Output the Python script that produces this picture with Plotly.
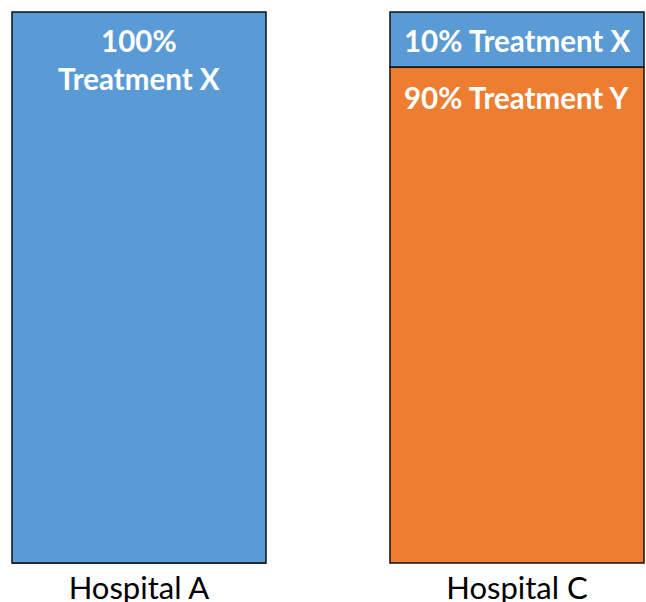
import plotly.graph_objects as go

# Share of patients by treatment at each hospital (percent)
hospitals = ["Hospital A", "Hospital C"]
treatment_x = [100, 10]
treatment_y = [0, 90]

BLUE = "#5B9BD5"
ORANGE = "#ED7D31"
OUTLINE = "#111111"
FONT = "Lato"

fig = go.Figure()

# Treatment Y sits at the base, Treatment X stacked above it
fig.add_trace(go.Bar(
    x=hospitals, y=treatment_y, name="Treatment Y",
    marker=dict(color=ORANGE, line=dict(color=OUTLINE, width=1.5)),
    width=0.672, hoverinfo="skip",
))
fig.add_trace(go.Bar(
    x=hospitals, y=treatment_x, name="Treatment X", base=treatment_y,
    marker=dict(color=BLUE, line=dict(color=OUTLINE, width=1.5)),
    width=0.672, hoverinfo="skip",
))

label_font = dict(family=FONT, size=29.5, color="white")

# Hospital A: full bar of Treatment X, label near the top
fig.add_annotation(
    x=hospitals[0], y=treatment_y[0] + treatment_x[0],
    text=f"<b>{treatment_x[0]}%<br>Treatment X</b>",
    showarrow=False, yanchor="top", yshift=-9, font=label_font,
)
# Hospital C: thin Treatment X band on top, Treatment Y beneath
fig.add_annotation(
    x=hospitals[1], y=treatment_y[1] + treatment_x[1] / 2,
    text=f"<b>{treatment_x[1]}% Treatment X</b>",
    showarrow=False, yanchor="middle", yshift=-1, font=label_font,
)
fig.add_annotation(
    x=hospitals[1], y=treatment_y[1],
    text=f"<b>{treatment_y[1]}% Treatment Y</b>",
    showarrow=False, yanchor="top", yshift=-11, font=label_font,
)

fig.update_layout(
    barmode="overlay",
    width=646, height=602,
    margin=dict(l=0, r=0, t=11, b=38),
    plot_bgcolor="white", paper_bgcolor="white",
    showlegend=False,
    xaxis=dict(
        range=[-0.3677, 1.3413], showgrid=False, zeroline=False,
        showline=False, ticks="", ticklabelstandoff=3, automargin=False,
        tickfont=dict(family=FONT, size=31, color="black"),
    ),
    yaxis=dict(
        range=[-0.18, 100.18], visible=False, showgrid=False, zeroline=False,
        automargin=False,
    ),
)

fig.write_html("out.html")
